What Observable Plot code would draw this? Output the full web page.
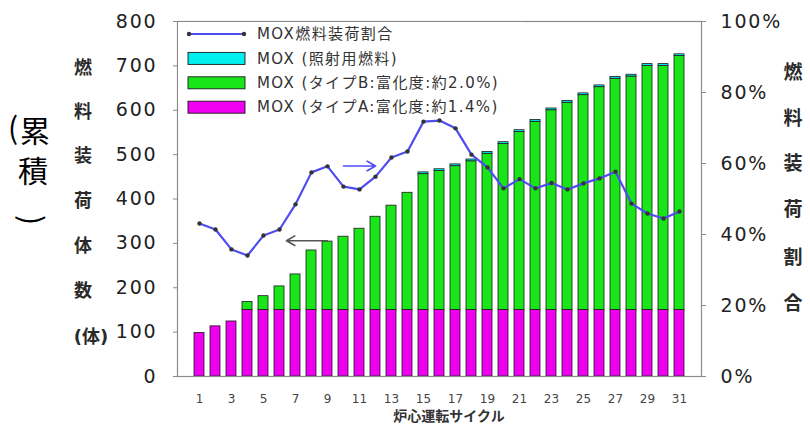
<!DOCTYPE html>
<html>
<head>
<meta charset="utf-8">
<script src="https://cdn.jsdelivr.net/npm/d3@7"></script>
<script src="https://cdn.jsdelivr.net/npm/@observablehq/plot@0.6"></script>
<style>
  body { margin: 0; background: #fff; overflow: hidden; }
  #chart svg { display: block; }
</style>
</head>
<body>
<div id="chart"></div>
<script>
// Reactor cycles (炉心運転サイクル)
const cycles = [1, 2, 3, 4, 5, 6, 7, 8, 9, 10, 11, 12, 13, 14, 15, 16, 17, 18, 19, 20, 21, 22, 23, 24, 25, 26, 27, 28, 29, 30, 31];

// Cumulative loaded assemblies per fuel type (体)
const typeA = [98, 113, 124, 150, 150, 150, 150, 150, 150, 150, 150, 150, 150, 150, 150, 150, 150, 150, 150, 150, 150, 150, 150, 150, 150, 150, 150, 150, 150, 150, 150];
const typeB = [0, 0, 0, 18, 31, 53, 80, 134, 154, 165, 183, 210, 235, 264, 306, 313, 324, 335, 352, 374, 401, 424, 450, 467, 484, 502, 521, 526, 550, 550, 572];
const irradiation = [0, 0, 0, 0, 0, 0, 0, 0, 0, 0, 0, 0, 0, 0, 4, 4, 4, 4, 4, 4, 4, 4, 4, 4, 4, 4, 4, 4, 4, 4, 4];

// MOX share of loaded fuel (%)
const moxRatio = [43.1, 41.4, 35.8, 34.1, 39.7, 41.4, 48.5, 57.5, 59.2, 53.5, 52.7, 56.3, 61.7, 63.4, 71.8, 72.1, 69.9, 62.5, 58.9, 53.0, 55.6, 53.0, 54.5, 52.7, 54.4, 55.8, 57.7, 48.7, 45.9, 44.5, 46.5];

const countTicks = [0, 100, 200, 300, 400, 500, 600, 700, 800];
const ratioTicks = [0, 20, 40, 60, 80, 100];
const cycleTicks = [1, 3, 5, 7, 9, 11, 13, 15, 17, 19, 21, 23, 25, 27, 29, 31];

const seriesNames = ["MOX (タイプA:富化度:約1.4%)", "MOX (タイプB:富化度:約2.0%)", "MOX (照射用燃料)"];
const seriesColors = ["#f000f0", "#19e619", "#00f0f0"];
const lineName = "MOX燃料装荷割合";
const lineColor = "#4d4df2";

const leftTitle = ["燃", "料", "装", "荷", "体", "数"];
const leftUnit = "(体)";
const rightTitle = ["燃", "料", "装", "荷", "割", "合"];
const xTitle = "炉心運転サイクル";

// The ratio (0–100%) shares the count axis: 100% ↔ 800 assemblies
const ratioToCount = 8;

const stacked = [];
cycles.forEach((c, i) => {
  stacked.push({cycle: c, series: seriesNames[0], value: typeA[i]});
  stacked.push({cycle: c, series: seriesNames[1], value: typeB[i]});
  stacked.push({cycle: c, series: seriesNames[2], value: irradiation[i]});
});
const ratioRows = cycles.map((c, i) => ({cycle: c, ratio: moxRatio[i]}));

// annotation arrows: line → right axis, bars → left axis
const toRightAxis = [{from: 10, to: 12, ratio: 59.3}];
const toLeftAxis = [{from: 9, to: 6, count: 306}];

const font = "'DejaVu Sans', 'Noto Sans CJK JP', sans-serif";

const chart = Plot.plot({
  width: 810,
  height: 427,
  marginLeft: 177,
  marginRight: 109,
  marginTop: 21,
  marginBottom: 51,
  style: {fontFamily: font, background: "#fff", color: "#222"},
  x: {domain: cycles, paddingInner: 0.4, paddingOuter: 0.2, label: null},
  y: {domain: [0, 800], label: null},
  color: {domain: seriesNames, range: seriesColors, legend: false},
  marks: [
    Plot.barY(stacked, {x: "cycle", y: "value", fill: "series", stroke: "#1a1a1a", strokeWidth: 0.8}),
    Plot.line(ratioRows, {x: "cycle", y: d => d.ratio * ratioToCount, stroke: lineColor, strokeWidth: 2.2}),
    Plot.dot(ratioRows, {x: "cycle", y: d => d.ratio * ratioToCount, r: 2.2, fill: "#333", stroke: "none"}),
    Plot.arrow(toRightAxis, {x1: "from", x2: "to", y1: d => d.ratio * ratioToCount, y2: d => d.ratio * ratioToCount, stroke: lineColor, strokeWidth: 1.6, headLength: 9}),
    Plot.arrow(toLeftAxis, {x1: "from", x2: "to", y1: "count", y2: "count", stroke: "#555", strokeWidth: 1.6, headLength: 9, insetEnd: 7}),
    Plot.frame({stroke: "#8a8a8a", strokeWidth: 1.2}),
    Plot.axisY({ticks: countTicks, tickSize: 4, tickPadding: 16, fontSize: 19, stroke: "#8a8a8a"}),
    Plot.axisY({anchor: "right", ticks: ratioTicks.map(t => t * ratioToCount), tickFormat: d => (d / ratioToCount) + "%", tickSize: 4, tickPadding: 15, fontSize: 19, stroke: "#8a8a8a"}),
    Plot.axisX({ticks: cycleTicks, tickSize: 0, tickPadding: 18, fontSize: 12})
  ]
});

document.getElementById("chart").appendChild(chart);

const svg = d3.select(chart);
svg.selectAll("[aria-label^='y-axis tick label'] text").style("letter-spacing", "1.8px");
svg.selectAll("[aria-label^='x-axis tick label'] text").style("fill", "#444");

// Legend in the upper-left corner of the plot area
const legend = svg.append("g").attr("font-family", font).attr("font-size", 15)
  .attr("text-anchor", "start").style("letter-spacing", "1.4px");
legend.append("rect").attr("x", 178).attr("y", 22).attr("width", 345).attr("height", 96).attr("fill", "#fff");
const legendRows = [
  {label: lineName, kind: "line", color: lineColor},
  {label: seriesNames[2], kind: "box", color: seriesColors[2]},
  {label: seriesNames[1], kind: "box", color: seriesColors[1]},
  {label: seriesNames[0], kind: "box", color: seriesColors[0]}
];
legendRows.forEach((row, i) => {
  const cy = 34 + i * 24.4;
  if (row.kind === "line") {
    legend.append("line").attr("x1", 189).attr("x2", 244).attr("y1", cy).attr("y2", cy)
      .attr("stroke", row.color).attr("stroke-width", 2.2);
    legend.append("circle").attr("cx", 189).attr("cy", cy).attr("r", 2.2).attr("fill", "#333");
    legend.append("circle").attr("cx", 244).attr("cy", cy).attr("r", 2.2).attr("fill", "#333");
  } else {
    legend.append("rect").attr("x", 188).attr("y", cy - 6).attr("width", 57).attr("height", 12)
      .attr("fill", row.color).attr("stroke", "#1a1a1a").attr("stroke-width", 0.9);
  }
  legend.append("text").attr("x", 257).attr("y", cy).attr("dy", "0.35em").attr("fill", "#333").text(row.label);
});

// Vertical axis titles
const titles = svg.append("g").attr("font-family", font).attr("fill", "#2a2a2a")
  .attr("text-anchor", "middle").attr("font-weight", "bold");
const leftY = [68, 112, 156, 201, 246, 291];
leftTitle.forEach((ch, i) => {
  titles.append("text").attr("x", 83).attr("y", leftY[i]).attr("dy", "0.35em").attr("font-size", 18).text(ch);
});
titles.append("text").attr("x", 91).attr("y", 337).attr("dy", "0.35em").attr("font-size", 18).text(leftUnit);
const rightY = [72, 118, 163, 209, 257, 303];
rightTitle.forEach((ch, i) => {
  titles.append("text").attr("x", 793).attr("y", rightY[i]).attr("dy", "0.35em").attr("font-size", 19).text(ch);
});

// (累積) written vertically in larger type
const cum = svg.append("g").attr("font-family", "'Noto Sans CJK JP', sans-serif").attr("fill", "#000")
  .attr("text-anchor", "middle").attr("font-size", 30);
cum.append("text").attr("x", 13).attr("y", 128).attr("dy", "0.35em").text("(");
cum.append("text").attr("x", 35).attr("y", 131).attr("dy", "0.35em").text("累");
cum.append("text").attr("x", 33).attr("y", 171).attr("dy", "0.35em").text("積");
cum.append("text").attr("transform", "translate(31,220) rotate(90)").attr("dy", "0.35em").text(")");

// x-axis title
svg.append("text").attr("x", 449).attr("y", 416).attr("dy", "0.35em").attr("text-anchor", "middle")
  .attr("font-family", font).attr("font-size", 14).attr("font-weight", "bold").attr("fill", "#333").text(xTitle);
</script>
</body>
</html>
